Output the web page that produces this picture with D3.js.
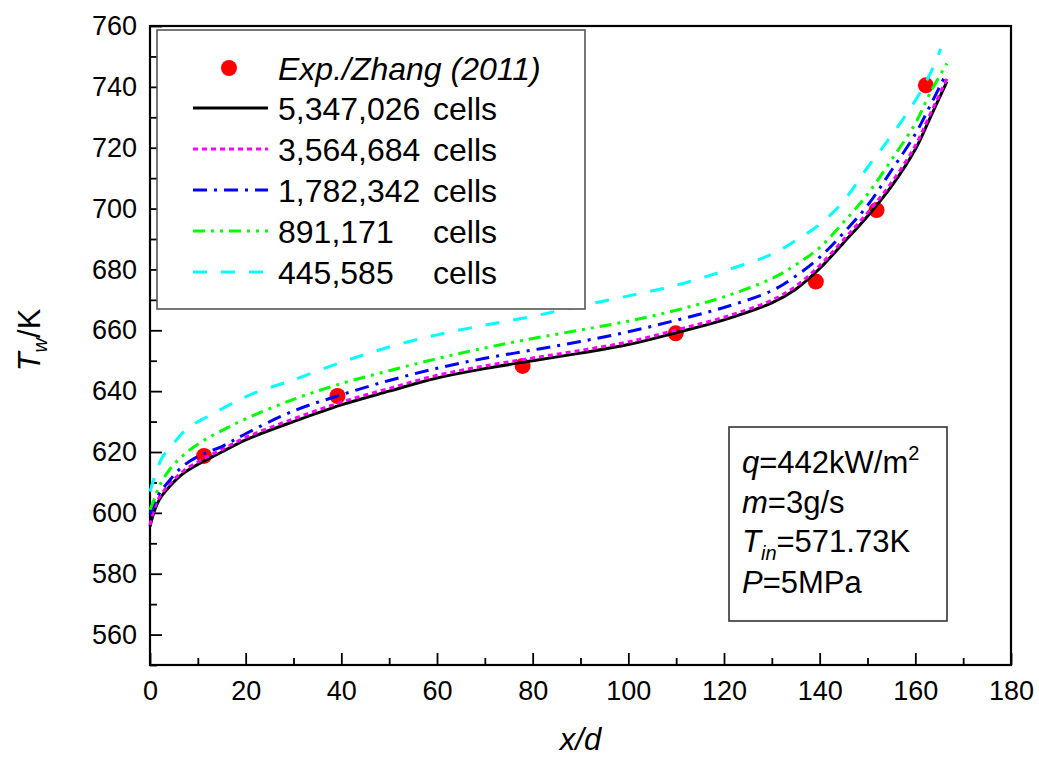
<!DOCTYPE html>
<html>
<head>
<meta charset="utf-8">
<script src="https://cdn.jsdelivr.net/npm/d3@7"></script>
<style>
  body { margin: 0; background: #fff; }
  svg text { font-family: "Liberation Sans", Arial, sans-serif; fill: #000; }
</style>
</head>
<body>
<div id="chart"></div>
<script>
// experimental points (Zhang 2011)
var expX = [11.3, 39.2, 77.9, 109.9, 139.2, 151.9, 162.2];
var expY = [618.7, 638.4, 648.3, 659.0, 676.0, 699.5, 740.5];

// simulated wall temperature, one array per mesh
var simX = [0, 1, 2, 4, 7, 11, 15, 20, 30, 40, 50, 60, 70, 80, 90, 100, 110, 120, 130, 135, 140, 145, 150, 155, 160, 163, 166.6];
var t5347 = [595.5, 601, 604.5, 608.5, 613, 616.8, 620, 624, 630, 635.5, 640, 644.3, 647.4, 650, 652.5, 655.3, 659.2, 663.4, 669, 673.5, 680.3, 688.8, 697.5, 707.3, 719.5, 729.5, 741.7];
var t3564 = [596, 601.8, 605.3, 609.3, 613.8, 617.6, 620.8, 624.8, 630.9, 636.4, 640.9, 645.2, 648.3, 650.9, 653.4, 656.2, 660.1, 664.3, 669.9, 674.5, 681.3, 689.8, 698.6, 708.5, 720.7, 730.7, 742.6];
var t1782 = [599.5, 603.5, 606.5, 610.5, 615.5, 619.3, 621.8, 626, 633.5, 638.8, 643.5, 647.5, 650.8, 653.5, 656.3, 659.5, 663.3, 667.5, 673, 677.8, 684, 692, 701, 712.5, 724.5, 733.5, 744.8];
var t891 = [601, 605, 609, 614, 619, 623.6, 627, 630.9, 637.3, 642.5, 646.7, 650.7, 654.2, 657.3, 660.1, 663, 666.6, 671, 677, 681.5, 687.2, 695.5, 704.7, 716, 728, 737.7, 747.7];
var t445x = [0, 1, 2.5, 5, 8, 12, 17, 22, 30, 40, 50, 60, 70, 80, 90, 100, 110, 120, 130, 135, 140, 145, 150, 155, 160, 163, 165.3];
var t445 = [607, 612, 618, 623, 628, 631.6, 635.8, 639.5, 643.7, 649.5, 654.5, 658.5, 661.7, 664.6, 668, 671.3, 674.8, 679.5, 685, 689.5, 694.8, 702.5, 713.5, 724, 735.5, 744, 752.5];

var legendNames = ["5,347,026", "3,564,684", "1,782,342", "891,171", "445,585"];
var xTicks = [0, 20, 40, 60, 80, 100, 120, 140, 160, 180];
var yTicks = [560, 580, 600, 620, 640, 660, 680, 700, 720, 740, 760];

var width = 1039, height = 760;
var pLeft = 150, pRight = 1011, pTop = 26, pBottom = 665;

var svg = d3.select("#chart").append("svg")
  .attr("width", width)
  .attr("height", height);

var x = d3.scaleLinear().domain([0, 180]).range([pLeft, pRight]);
var y = d3.scaleLinear().domain([550, 760]).range([pBottom, pTop]);

// series table
var series = [
  {name: legendNames[0], xs: simX, ys: t5347, color: "#000000", dash: null, w: 3},
  {name: legendNames[1], xs: simX, ys: t3564, color: "#ff00ff", dash: "5,4", w: 3},
  {name: legendNames[2], xs: simX, ys: t1782, color: "#0000ff", dash: "14,7,3,7", w: 3},
  {name: legendNames[3], xs: simX, ys: t891, color: "#00ff00", dash: "12,6,3,6,3,6", w: 3},
  {name: legendNames[4], xs: t445x, ys: t445, color: "#00ffff", dash: "14,14", w: 3}
];

// ---- axes
var minorX = d3.range(10, 180, 20);
var minorY = d3.range(550, 760, 20);

svg.append("g")
  .attr("transform", "translate(0," + pBottom + ")")
  .call(d3.axisBottom(x).tickValues(minorX).tickFormat("").tickSizeInner(-7).tickSizeOuter(0));
svg.append("g")
  .attr("class", "xaxis")
  .attr("transform", "translate(0," + pBottom + ")")
  .call(d3.axisBottom(x).tickValues(xTicks).tickSizeInner(-12).tickSizeOuter(0).tickPadding(16));

svg.append("g")
  .attr("transform", "translate(" + pLeft + ",0)")
  .call(d3.axisLeft(y).tickValues(minorY).tickFormat("").tickSizeInner(-7).tickSizeOuter(0));
svg.append("g")
  .attr("class", "yaxis")
  .attr("transform", "translate(" + pLeft + ",0)")
  .call(d3.axisLeft(y).tickValues(yTicks).tickSizeInner(-12).tickSizeOuter(0).tickPadding(13));

svg.selectAll(".tick line").attr("stroke", "#000").attr("stroke-width", 1.8);
svg.selectAll(".domain").attr("stroke", "none");
svg.selectAll(".xaxis text, .yaxis text")
  .style("font-size", "27px")
  .style("font-family", "Liberation Sans, Arial, sans-serif");
svg.selectAll(".xaxis text").attr("dy", "0.71em");

// frame
svg.append("rect")
  .attr("x", pLeft).attr("y", pTop)
  .attr("width", pRight - pLeft).attr("height", pBottom - pTop)
  .attr("fill", "none").attr("stroke", "#000").attr("stroke-width", 2.2);

// axis titles
var yl = svg.append("text")
  .attr("transform", "translate(40,340) rotate(-90)")
  .attr("text-anchor", "middle")
  .style("font-size", "31px");
yl.append("tspan").style("font-style", "italic").text("T");
yl.append("tspan").style("font-style", "italic").style("font-size", "20px").attr("dy", 7).text("w");
yl.append("tspan").attr("dy", -7).text("/K");

svg.append("text")
  .attr("x", (pLeft + pRight) / 2).attr("y", 750)
  .attr("text-anchor", "middle")
  .style("font-size", "31px").style("font-style", "italic")
  .text("x/d");

// ---- experimental points (drawn under the lines)
svg.append("g").selectAll("circle")
  .data(expX)
  .enter().append("circle")
  .attr("cx", function(d) { return x(d); })
  .attr("cy", function(d, i) { return y(expY[i]); })
  .attr("r", 8)
  .attr("fill", "#ff0000");

// ---- simulation lines
var line = d3.line()
  .x(function(d) { return x(d[0]); })
  .y(function(d) { return y(d[1]); })
  .curve(d3.curveCatmullRom.alpha(0.5));

series.forEach(function(s) {
  var pts = s.xs.map(function(v, i) { return [v, s.ys[i]]; });
  svg.append("path")
    .datum(pts)
    .attr("d", line)
    .attr("fill", "none")
    .attr("stroke", s.color)
    .attr("stroke-width", s.w)
    .attr("stroke-dasharray", s.dash);
});

// ---- legend
var lg = svg.append("g");
lg.append("rect")
  .attr("x", 157).attr("y", 30)
  .attr("width", 428).attr("height", 279)
  .attr("fill", "#fff").attr("stroke", "#555").attr("stroke-width", 1.6);

lg.append("circle").attr("cx", 229).attr("cy", 68).attr("r", 8).attr("fill", "#ff0000");
lg.append("text")
  .attr("x", 278).attr("y", 68).attr("dy", "0.36em")
  .style("font-size", "32px").style("font-style", "italic")
  .text("Exp./Zhang (2011)");

series.forEach(function(s, i) {
  var ry = 108 + i * 41;
  lg.append("line")
    .attr("x1", 193).attr("x2", 268)
    .attr("y1", ry).attr("y2", ry)
    .attr("stroke", s.color).attr("stroke-width", s.w)
    .attr("stroke-dasharray", s.dash);
  lg.append("text")
    .attr("x", 278).attr("y", ry).attr("dy", "0.36em")
    .style("font-size", "32px")
    .text(s.name);
  lg.append("text")
    .attr("x", 433).attr("y", ry).attr("dy", "0.36em")
    .style("font-size", "32px")
    .text("cells");
});

// ---- conditions box
var cb = svg.append("g");
cb.append("rect")
  .attr("x", 729).attr("y", 427)
  .attr("width", 218).attr("height", 194)
  .attr("fill", "#fff").attr("stroke", "#333").attr("stroke-width", 1.6);

var t1 = cb.append("text").attr("x", 742).attr("y", 473).style("font-size", "31px");
t1.append("tspan").style("font-style", "italic").text("q");
t1.append("tspan").text("=442kW/m");
t1.append("tspan").style("font-size", "20px").attr("dy", -13).text("2");

var t2 = cb.append("text").attr("x", 742).attr("y", 513).style("font-size", "31px");
t2.append("tspan").style("font-style", "italic").text("m");
t2.append("tspan").text("=3g/s");

var t3 = cb.append("text").attr("x", 742).attr("y", 552).style("font-size", "31px");
t3.append("tspan").style("font-style", "italic").text("T");
t3.append("tspan").style("font-style", "italic").style("font-size", "20px").attr("dy", 8).text("in");
t3.append("tspan").attr("dy", -8).text("=571.73K");

var t4 = cb.append("text").attr("x", 742).attr("y", 593).style("font-size", "31px");
t4.append("tspan").style("font-style", "italic").text("P");
t4.append("tspan").text("=5MPa");
</script>
</body>
</html>
